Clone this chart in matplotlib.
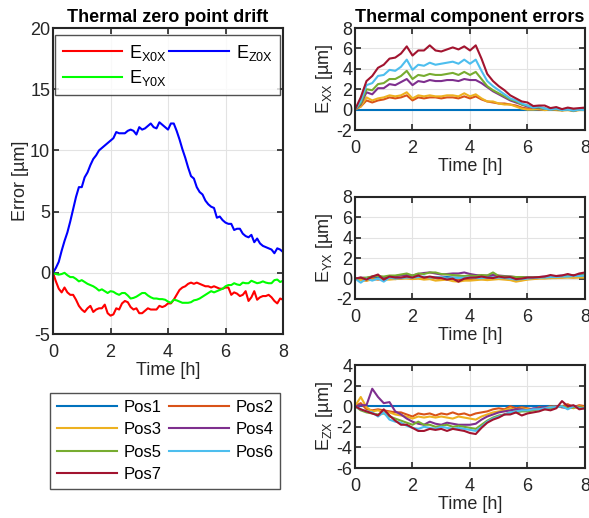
import matplotlib
matplotlib.use("Agg")
import matplotlib.pyplot as plt
import numpy as np

plt.rcParams['font.family'] = ['Liberation Sans', 'DejaVu Sans']
plt.rcParams['mathtext.fontset'] = 'custom'
plt.rcParams['mathtext.rm'] = 'Liberation Sans'
plt.rcParams['mathtext.it'] = 'Liberation Sans'
plt.rcParams['axes.unicode_minus'] = False

# ---- left panel data, 0.1 h steps ----
t_drift = np.arange(0, 81) / 10.0
e_x0x = [0, -0.7, -1.3, -1.6, -1.2, -1.6, -1.8, -1.8, -2.2, -2.7,
         -3.0, -3.2, -2.9, -2.7, -3.2, -3.0, -2.9, -2.9, -2.6, -3.3,
         -3.5, -3.4, -2.9, -3.0, -2.5, -2.3, -2.4, -2.8, -3.0, -2.9,
         -3.3, -3.3, -3.1, -2.9, -3.0, -3.0, -3.0, -2.7, -2.8, -2.7,
         -2.5, -2.5, -2.2, -1.8, -1.4, -1.2, -1.1, -0.9, -0.8, -0.9,
         -0.8, -0.9, -1.0, -1.1, -1.1, -1.2, -1.1, -1.2, -1.3, -1.3,
         -1.2, -1.2, -1.8, -1.6, -1.7, -1.9, -1.8, -1.5, -2.3, -2.0,
         -1.5, -2.2, -2.0, -1.9, -1.9, -1.8, -2.0, -2.3, -2.5, -2.1, -2.2]
e_y0x = [0, -0.1, -0.15, -0.1, 0.0, -0.2, -0.35, -0.35, -0.5, -0.7,
         -0.6, -0.75, -0.9, -1.0, -1.1, -1.25, -1.45, -1.35, -1.5, -1.65,
         -1.5, -1.55, -1.7, -1.8, -1.65, -1.65, -1.85, -2.1, -2.05, -1.95,
         -1.8, -1.65, -1.65, -1.85, -2.0, -2.1, -2.1, -2.15, -2.15, -2.2,
         -2.35, -2.45, -2.2, -2.25, -2.35, -2.45, -2.45, -2.45, -2.4, -2.25,
         -2.2, -2.1, -1.95, -1.8, -1.65, -1.5, -1.6, -1.5, -1.4, -1.3,
         -1.1, -1.0, -1.0, -0.85, -0.95, -1.0, -0.8, -0.85, -0.85, -0.65,
         -0.75, -0.85, -0.8, -0.7, -0.8, -0.85, -0.85, -0.6, -0.55, -0.75, -0.65]
e_z0x = [0, 0.4, 0.9, 1.8, 2.6, 3.3, 4.2, 5.2, 6.2, 7.0,
         7.0, 7.8, 8.2, 8.8, 9.3, 9.6, 10.0, 10.2, 10.4, 10.6,
         10.8, 11.0, 11.5, 11.4, 11.4, 11.4, 11.6, 11.7, 11.6, 11.3,
         11.9, 11.7, 11.8, 12.0, 12.2, 11.9, 11.8, 12.3, 12.1, 11.9,
         11.7, 12.2, 12.2, 11.6, 10.9, 10.1, 9.4, 8.6, 7.9, 7.7,
         7.0, 6.6, 6.4, 5.9, 5.6, 5.4, 5.3, 4.5, 4.6, 4.3,
         4.1, 4.0, 4.0, 3.5, 3.6, 3.6, 3.2, 3.0, 2.9, 3.1,
         2.5, 2.8, 2.4, 2.2, 2.1, 2.0, 1.9, 1.6, 2.0, 1.9, 1.7]

# ---- right panels data, 0.2 h steps ----
t_pos = np.arange(0, 41) / 5.0
pos_names = ['Pos1', 'Pos2', 'Pos3', 'Pos4', 'Pos5', 'Pos6', 'Pos7']

exx = {
    'Pos1': [0] * 41,
    'Pos2': [0, 0.3, 0.9, 0.7, 0.9, 1.0, 1.2, 1.1, 1.2, 1.4, 0.9, 1.2, 1.1, 1.2, 1.2, 1.1, 1.2, 1.2, 1.1, 1.3,
             1.1, 1.3, 1.0, 0.8, 0.7, 0.6, 0.6, 0.5, 0.4, 0.2, 0.1, 0.1, 0.0, 0.05, 0.0, 0.0, -0.05, 0.0, -0.05, 0.0, 0.0],
    'Pos3': [0, 0.3, 1.2, 0.9, 1.1, 1.2, 1.4, 1.3, 1.4, 1.7, 1.1, 1.4, 1.3, 1.4, 1.3, 1.3, 1.4, 1.4, 1.3, 1.6,
             1.3, 1.5, 1.1, 0.8, 0.8, 0.6, 0.5, 0.5, 0.3, 0.1, 0.0, 0.0, 0.05, -0.05, 0.0, -0.05, -0.1, -0.05, -0.15, -0.05, -0.05],
    'Pos4': [0, 0.5, 1.7, 1.5, 2.1, 2.1, 2.5, 2.4, 2.7, 3.0, 2.4, 2.8, 2.7, 2.9, 2.8, 2.8, 2.9, 2.9, 2.8, 3.0,
             2.9, 2.9, 2.6, 2.2, 1.8, 1.5, 1.2, 0.9, 0.7, 0.5, 0.3, 0.2, 0.15, 0.1, 0.0, 0.05, -0.05, 0.0, -0.1, 0.0, 0.0],
    'Pos5': [0, 0.6, 2.0, 1.9, 2.5, 2.6, 3.0, 3.0, 3.3, 3.8, 3.0, 3.4, 3.3, 3.5, 3.4, 3.4, 3.5, 3.6, 3.4, 3.7,
             3.4, 3.7, 3.0, 2.3, 1.9, 1.6, 1.3, 1.0, 0.8, 0.5, 0.4, 0.2, 0.2, 0.1, 0.0, 0.05, -0.05, 0.0, -0.1, 0.0, 0.0],
    'Pos6': [0, 0.8, 2.4, 2.6, 3.3, 3.4, 3.9, 3.8, 4.2, 4.9, 3.9, 4.4, 4.3, 4.6, 4.4, 4.5, 4.6, 4.7, 4.5, 4.9,
             4.5, 4.9, 3.8, 2.8, 2.3, 1.9, 1.5, 1.1, 0.9, 0.6, 0.4, 0.2, 0.3, 0.1, 0.0, 0.1, -0.05, 0.0, -0.1, 0.0, -0.05],
    'Pos7': [0, 1.2, 2.8, 3.3, 4.1, 4.4, 5.0, 5.1, 5.5, 6.2, 5.3, 5.8, 5.8, 6.3, 5.8, 5.7, 5.9, 6.1, 5.9, 6.2,
             5.8, 6.3, 5.0, 3.5, 2.8, 2.3, 1.9, 1.4, 1.1, 0.8, 0.7, 0.35, 0.4, 0.4, 0.15, 0.25, 0.05, 0.2, 0.1, 0.15, 0.2],
}

eyx = {
    'Pos1': [0, 0.05, 0, 0.05, 0.1, 0.05, 0.1, 0.1, 0.05, 0.1, 0.1, 0.1, 0.15, 0.1, 0.1, 0.1, 0.15, 0.1, 0.1, 0.05,
             0.1, 0.1, 0.1, 0.15, 0.1, 0.1, 0.05, 0.1, 0.1, 0.1, 0.1, 0.1, 0.15, 0.15, 0.2, 0.2, 0.2, 0.2, 0.25, 0.25, 0.3],
    'Pos2': [0, -0.1, -0.2, 0, -0.1, 0, 0.05, -0.05, 0, 0.1, 0, 0.05, 0, 0.1, 0.05, -0.1, 0, -0.05, -0.1, -0.15,
             -0.05, 0, -0.05, 0, 0, 0.05, 0, -0.1, -0.2, -0.15, -0.05, 0, 0.05, 0.1, 0.05, 0.1, 0.1, 0.15, 0.1, 0.15, 0.2],
    'Pos3': [0, -0.15, -0.2, -0.1, -0.05, -0.1, -0.1, -0.05, 0, 0, -0.05, 0, -0.1, -0.05, -0.2, -0.15, -0.1, -0.25, -0.3, -0.2,
             -0.2, -0.15, -0.1, -0.15, -0.1, -0.05, -0.1, -0.15, -0.3, -0.2, -0.1, -0.05, 0, 0, 0.05, 0.05, 0.1, 0.1, 0.1, 0.1, 0.1],
    'Pos4': [0, 0.1, 0.05, 0.2, 0.25, 0.1, 0.2, 0.25, 0.3, 0.35, 0.3, 0.45, 0.55, 0.6, 0.5, 0.4, 0.45, 0.5, 0.5, 0.6,
             0.45, 0.35, 0.3, 0.3, 0.35, 0.3, 0.25, 0.2, 0.15, 0.15, 0.1, 0.1, 0.15, 0.2, 0.2, 0.25, 0.3, 0.3, 0.35, 0.35, 0.4],
    'Pos5': [0, 0.05, 0.1, 0.2, 0.25, 0.2, 0.3, 0.3, 0.4, 0.5, 0.3, 0.5, 0.45, 0.6, 0.6, 0.45, 0.4, 0.35, 0.3, 0.25,
             0.3, 0.25, 0.35, 0.3, 0.6, 0.25, 0.2, 0.2, 0.15, 0.15, 0.1, 0.1, 0.15, 0.15, 0.2, 0.2, 0.25, 0.25, 0.3, 0.3, 0.35],
    'Pos6': [0, -0.4, 0, -0.2, 0, -0.3, 0.1, 0, 0.05, 0.1, 0.1, 0.15, 0.2, 0.1, 0.15, 0.1, 0, 0.05, 0.05, 0.1,
             0.1, 0.05, 0.05, 0.1, 0.05, 0.1, 0.05, 0, -0.1, -0.05, 0, 0.05, 0.1, 0.1, 0.15, 0.15, 0.2, 0.2, 0.25, 0.25, 0.3],
    'Pos7': [0, 0.1, -0.1, 0.2, 0.4, -0.1, 0.2, 0.1, 0.1, 0.2, 0.1, 0.3, 0.1, 0.2, 0.1, 0.05, -0.1, 0, -0.3, 0,
             0.1, 0.1, 0.2, 0.1, 0.05, 0.2, 0.1, 0.15, -0.05, 0, 0.1, 0.1, 0.15, 0.2, 0.35, 0.25, 0.3, 0.45, 0.3, 0.5, 0.6],
}

ezx = {
    'Pos1': [0] * 41,
    'Pos2': [0, 0.3, -0.3, -0.4, -0.3, -0.4, -0.5, -0.6, -0.6, -0.8, -1.0, -0.7, -0.8, -0.7, -0.9, -0.7, -0.8, -0.6, -0.8, -0.7,
             -0.9, -0.7, -0.6, -0.5, -0.3, -0.2, -0.3, 0.0, -0.2, -0.1, -0.2, -0.3, -0.1, -0.2, 0.0, -0.1, 0.0, 0.2, -0.1, 0.1, 0.0],
    'Pos3': [0, 0.9, -0.1, -0.5, -0.4, -0.6, -0.6, -0.8, -0.9, -1.0, -1.2, -1.0, -1.1, -1.0, -1.1, -1.0, -1.1, -1.2, -1.0, -1.1,
             -1.2, -1.3, -1.0, -0.8, -0.6, -0.5, -0.4, -0.2, -0.4, -0.2, -0.3, -0.3, -0.2, -0.2, -0.1, 0.0, -0.1, 0.0, -0.2, 0.0, -0.1],
    'Pos4': [0, 0.1, 0.1, 1.7, 0.9, 0.3, 0.4, -0.5, -0.8, -1.2, -1.5, -1.7, -1.8, -1.5, -1.7, -1.8, -1.6, -1.7, -1.8, -1.8,
             -1.8, -1.7, -1.3, -1.0, -0.8, -0.6, -0.5, -0.4, -0.3, -0.3, -0.4, -0.2, -0.2, -0.1, -0.2, 0.0, -0.1, -0.2, 0.0, -0.1, -0.2],
    'Pos5': [0, -0.4, -0.6, -0.7, -0.8, -0.7, -1.0, -1.2, -1.4, -1.6, -1.8, -1.5, -1.8, -1.8, -2.0, -1.9, -1.8, -2.0, -1.9, -2.0,
             -2.1, -2.2, -1.8, -1.4, -1.1, -0.9, -0.8, -0.6, -0.6, -0.5, -0.5, -0.4, -0.3, -0.3, -0.2, -0.1, 0.0, -0.2, -0.1, -0.1, -0.2],
    'Pos6': [0, -0.3, -0.5, -0.6, -1.0, -0.6, -1.3, -1.5, -1.6, -1.9, -2.1, -2.2, -2.0, -2.1, -2.2, -2.0, -2.1, -2.2, -2.1, -2.2,
             -2.3, -2.4, -2.0, -1.5, -1.2, -1.0, -0.8, -0.6, -0.5, -0.4, -0.4, -0.3, -0.3, -0.2, -0.1, -0.1, 0.0, -0.3, 0.0, -0.2, -0.2],
    'Pos7': [0, -0.3, -0.5, -0.7, -0.9, -0.3, -0.9, -1.4, -1.8, -1.8, -2.1, -2.4, -2.4, -2.2, -2.3, -2.2, -2.4, -2.2, -2.3, -2.4,
             -2.6, -2.7, -2.1, -1.6, -1.3, -1.1, -0.8, -0.8, -0.6, -0.9, -0.7, -0.6, -0.5, -0.3, -0.4, -0.2, 0.5, 0.0, 0.1, -0.3, -0.2],
}

pos_colors = ['#0072BD', '#D95319', '#EDB120', '#7E2F8E', '#77AC30', '#4DBEEE', '#A2142F']
axcol = '#262626'
fs = 13


def style(ax, ylim, yticks):
    ax.set_xlim(0, 8)
    ax.set_ylim(*ylim)
    ax.set_xticks(np.arange(0, 9, 2))
    ax.set_yticks(yticks)
    ax.grid(True, color='#e3e3e3', lw=0.8)
    ax.set_axisbelow(True)
    ax.tick_params(direction='in', top=True, right=True, length=4, width=1.2,
                   labelsize=fs, colors=axcol, pad=2)
    ax.tick_params(axis='x', pad=7)
    for s in ax.spines.values():
        s.set_linewidth(1.5)
        s.set_color(axcol)
    ax.set_xlabel('Time [h]', fontsize=fs, color=axcol, labelpad=1)


fig = plt.figure(figsize=(5.89, 5.18), dpi=100)

# left: zero point drift
ax0 = fig.add_axes([0.090, 0.3552, 0.3905, 0.5907])
ax0.plot(t_drift, e_x0x, color='#FF0000', lw=1.5, label=r'E$_{\mathrm{X0X}}$')
ax0.plot(t_drift, e_y0x, color='#00FF00', lw=1.5, label=r'E$_{\mathrm{Y0X}}$')
ax0.plot(t_drift, e_z0x, color='#0000FF', lw=1.5, label=r'E$_{\mathrm{Z0X}}$')
style(ax0, (-5, 20), np.arange(-5, 21, 5))
ax0.set_ylabel('Error [µm]', fontsize=fs, color=axcol, labelpad=1)
ax0.set_title('Thermal zero point drift', fontsize=fs, fontweight='bold', pad=4)
leg0 = ax0.legend(ncol=2, loc='lower left', bbox_to_anchor=(0.01, 0.78, 0.977, 0.207),
                  mode='expand', fontsize=fs, handlelength=3.3, frameon=True,
                  fancybox=False, edgecolor=axcol, borderaxespad=0, columnspacing=0.8,
                  labelspacing=0.3, handletextpad=0.4)
leg0.get_frame().set_linewidth(1.0)

# right: component errors
rects = [[0.6027, 0.749, 0.3905, 0.1969],
         [0.6027, 0.4228, 0.3905, 0.1969],
         [0.6027, 0.0965, 0.3905, 0.1988]]
datasets = [exx, eyx, ezx]
ylabels = [r'E$_{\mathrm{XX}}$ [µm]', r'E$_{\mathrm{YX}}$ [µm]', r'E$_{\mathrm{ZX}}$ [µm]']
ylims = [(-2, 8), (-2, 8), (-6, 4)]

handles = []
for k in range(3):
    ax = fig.add_axes(rects[k])
    for name, c in zip(pos_names, pos_colors):
        ln, = ax.plot(t_pos, datasets[k][name], color=c, lw=1.5, label=name)
        if k == 0:
            handles.append(ln)
    style(ax, ylims[k], np.arange(ylims[k][0], ylims[k][1] + 1, 2))
    ax.set_ylabel(ylabels[k], fontsize=fs, color=axcol, labelpad=1)
    if k == 0:
        ax.set_title('Thermal component errors', fontsize=fs, fontweight='bold', pad=4)

# row-wise order in a two-column legend
order = [0, 2, 4, 6, 1, 3, 5]
leg1 = fig.legend(handles=[handles[i] for i in order], ncol=2, loc='lower left',
                  bbox_to_anchor=(0.0849, 0.056, 0.3905, 0.1834), mode='expand',
                  fontsize=12, handlelength=3.6, frameon=True, fancybox=False,
                  edgecolor=axcol, borderaxespad=0, columnspacing=0.8, labelspacing=0.45,
                  handletextpad=0.4)
leg1.get_frame().set_linewidth(1.0)

fig.savefig('out.png', dpi=100)
